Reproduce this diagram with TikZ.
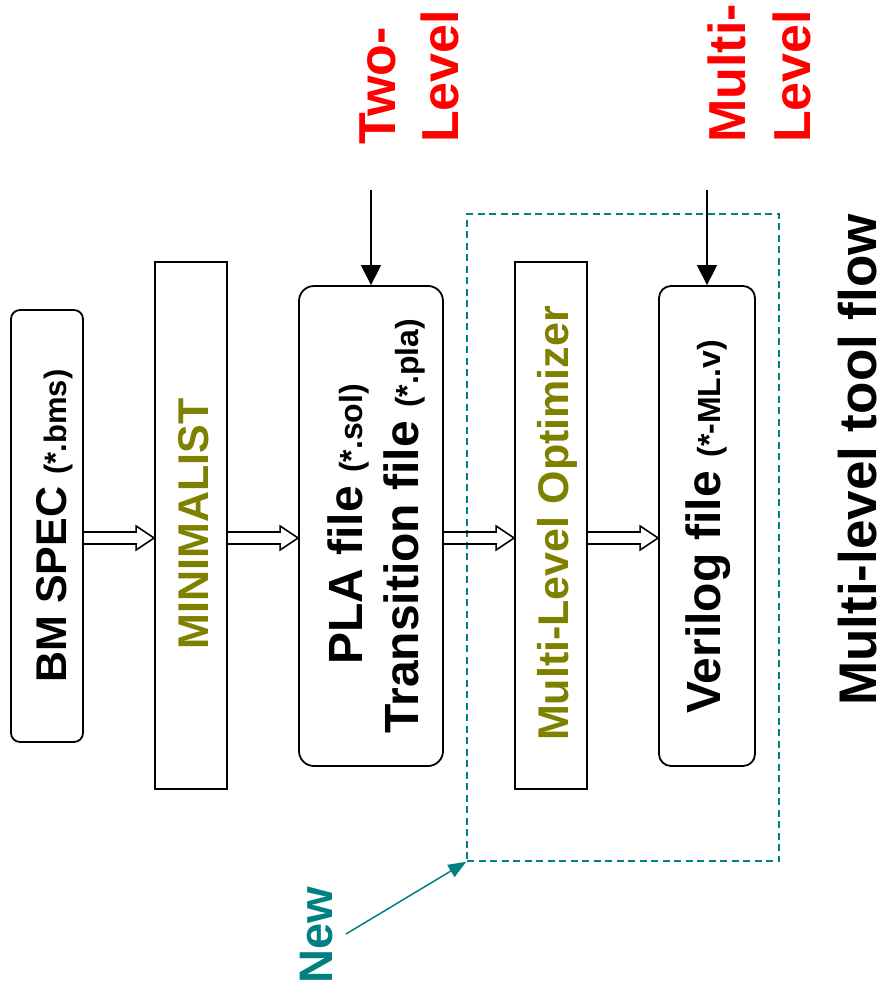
\documentclass[tikz,border=0pt]{standalone}
\usepackage{fontspec}
\setmainfont{Liberation Sans}
\usetikzlibrary{arrows.meta,calc}
\definecolor{olivetxt}{HTML}{808000}
\definecolor{tealnew}{HTML}{008080}
\definecolor{redlbl}{HTML}{FF0000}
% font size helper (size = leading)
\newcommand\fsz[1]{\fontsize{#1}{#1}\selectfont}
% hollow block arrow between two boxes, drawn along the row coordinate
\newcommand\blockarrow[2]{%
  \draw[blockarr]
    ($(#1.east|-row)+(0,-6)$) -- ($(#2.west|-row)+(-18,-6)$)
    -- ($(#2.west|-row)+(-18,-12)$) -- (#2.west|-row)
    -- ($(#2.west|-row)+(-18,12)$) -- ($(#2.west|-row)+(-18,6)$)
    -- ($(#1.east|-row)+(0,6)$);}
\begin{document}
\begin{tikzpicture}[x=1pt,y=-1pt,
  boxline/.style={draw=black, line width=1.8pt, inner sep=0pt},
  roundbox/.style={boxline, rounded corners=#1},
  vtext/.style={rotate=90, anchor=base, inner sep=0pt, font=\bfseries},
  vlabel/.style={rotate=90, anchor=base west, inner sep=0pt, font=\bfseries},
  blockarr/.style={draw=black, line width=1.6pt, line join=miter},
  feedarr/.style={draw=black, line width=1.5pt, -{Triangle[width=20pt,length=20pt]}},
  dashbox/.style={draw=tealnew, line width=1.5pt, dash pattern=on 7pt off 4.5pt, inner sep=0pt},
  newarr/.style={draw=tealnew, line width=1.5pt, -{Triangle[width=14pt,length=18pt]}}
]
\useasboundingbox (0,0) rectangle (886,998);

% row on which the block arrows run
\coordinate (row) at (0,538);

% dashed frame around the new stages
\node[dashbox, minimum width=312pt, minimum height=647pt] (newzone) at (623,537.5) {};

% boxes
\node[roundbox=9pt, minimum width=72pt, minimum height=432pt] (bm) at (47,526) {};
\node[boxline, minimum width=72pt, minimum height=527pt] (mini) at (191,525.5) {};
\node[roundbox=15pt, minimum width=144pt, minimum height=480pt] (pla) at (371,526) {};
\node[boxline, minimum width=72pt, minimum height=527pt] (mlo) at (551,525.5) {};
\node[roundbox=12pt, minimum width=96pt, minimum height=480pt] (ver) at (707,526) {};

% box texts
\node[vtext] (bmtext) at (66,526) {\fsz{43}BM SPEC {\fsz{31}(*.bms)}};
\node[vtext, text=olivetxt] (minitext) at (208,524) {\fsz{43}MINIMALIST};
\node[vtext] (platext) at (362,524.5) {\fsz{48}PLA file {\fsz{32}(*.sol)}};
\node[vtext] (trtext) at (418,526) {\fsz{48}Transition file {\fsz{32}(*.pla)}};
\node[vtext, text=olivetxt] (mlotext) at (568,523.5) {\fsz{43}Multi-Level Optimizer};
\node[vtext] (vertext) at (720,527) {\fsz{48}Verilog file {\fsz{32}(*-ML.v)}};

% block arrows
\blockarrow{bm}{mini}
\blockarrow{mini}{pla}
\blockarrow{pla}{mlo}
\blockarrow{mlo}{ver}

% level labels with their feed arrows
\node[vlabel, text=redlbl] (twoa) at (395,145) {\fsz{52}Two-};
\node[vlabel, text=redlbl] (twob) at (458,143) {\fsz{52}Level};
\node[vlabel, text=redlbl] (multa) at (745,143) {\fsz{52}Multi-};
\node[vlabel, text=redlbl] (multb) at (810,143) {\fsz{52}Level};
\coordinate (twofeed) at (371,190);
\coordinate (multfeed) at (707,190);
\draw[feedarr] (twofeed) -- (pla.north);
\draw[feedarr] (multfeed) -- (ver.north);

% marker for the new part
\node[vlabel, text=tealnew] (newlbl) at (332,984) {\fsz{47}New};
\coordinate (newtail) at (346,934);
\draw[newarr] (newtail) -- (newzone.south west);

% title
\node[vtext] (title) at (876,460) {\fsz{53}Multi-level tool flow};
\end{tikzpicture}
\end{document}
